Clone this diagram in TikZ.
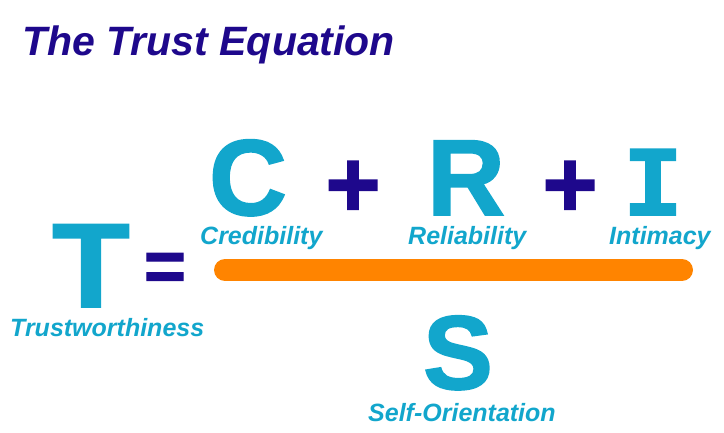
\documentclass[tikz,border=0pt]{standalone}
\usepackage{fontspec}
\setmainfont{Liberation Sans}
\newfontfamily\heavyfont[FakeBold=1.5]{Liberation Sans Bold}
\newfontfamily\slabfont[FakeBold=1.5]{Liberation Mono Bold}
\usetikzlibrary{positioning}
\definecolor{trustnavy}{RGB}{30,8,140}
\definecolor{trustcyan}{RGB}{18,166,204}
\definecolor{trustorange}{RGB}{255,132,0}

\begin{document}
\begin{tikzpicture}[
    x=1pt, y=-1pt,
    bigletter/.style={inner sep=0pt, anchor=base, text depth=0pt, text=trustcyan, font=\fontsize{108}{108}\heavyfont},
    oper/.style={inner sep=0pt, anchor=center, text=trustnavy, font=\fontsize{95}{95}\heavyfont},
    factor/.style={inner sep=0pt, anchor=base west, text=trustcyan, font=\fontsize{25}{25}\selectfont\bfseries\itshape},
    headline/.style={inner sep=0pt, anchor=base west, text=trustnavy, font=\fontsize{41}{41}\selectfont\bfseries\itshape}
]
\useasboundingbox (0,0) rectangle (724,432);

\node[headline] (title) at (22,55) {The Trust Equation};

% left hand side
\node[bigletter, font=\fontsize{120}{120}\heavyfont, xscale=1.06] (bigT) at (91,307) {T};
\node[factor] (trustw) at (10,336) {Trustworthiness};
\node[oper, font=\fontsize{72}{72}\heavyfont] (equals) at (165,272) {=};

% numerator
\node[bigletter] (bigC) at (248,215) {C};
\node[oper] (plusA) at (353,189) {+};
\node[bigletter] (bigR) at (466,215) {R};
\node[oper] (plusB) at (570,189) {+};
\node[bigletter, font=\fontsize{100}{100}\slabfont] (bigI) at (653,215) {I};
\node[factor] (cred) at (200,244) {Credibility};
\node[factor] (reli) at (408,244) {Reliability};
\node[factor] (inti) at (609,244) {Intimacy};

% fraction bar
\coordinate (barL) at (225,270);
\coordinate (barR) at (682,270);
\draw[trustorange, line width=22pt, line cap=round] (barL) -- (barR);

% denominator
\node[bigletter, font=\fontsize{105}{105}\heavyfont] (bigS) at (458,389) {S};
\node[factor] (selfo) at (368,421) {Self-Orientation};
\end{tikzpicture}
\end{document}
